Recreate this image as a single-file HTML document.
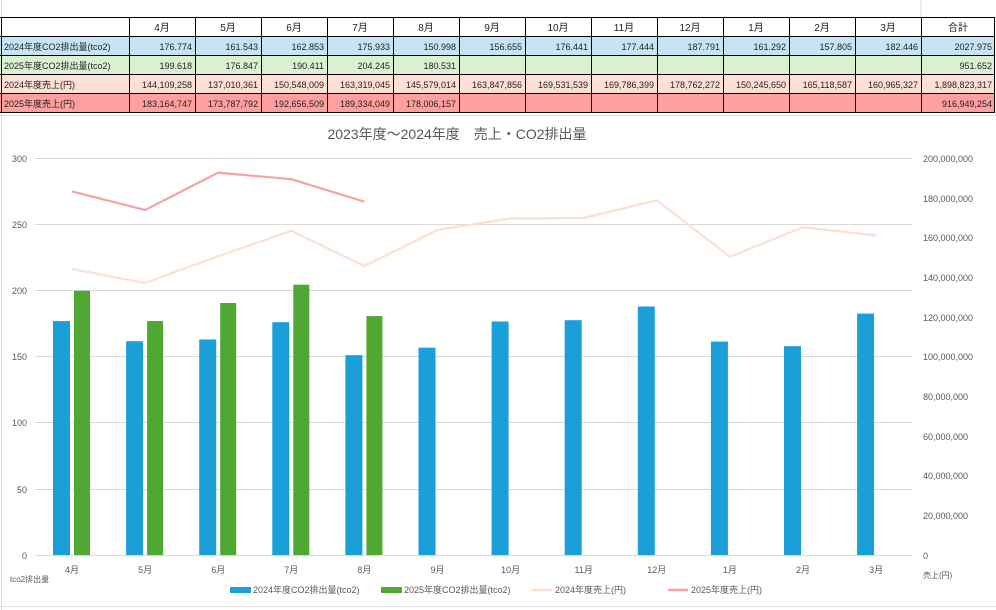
<!DOCTYPE html>
<html><head><meta charset="utf-8"><style>
html,body{margin:0;padding:0;background:#fff;}
svg{display:block;font-family:"Liberation Sans","Noto Sans CJK JP",sans-serif;}
</style></head><body>
<svg width="996" height="610" viewBox="0 0 996 610" xmlns="http://www.w3.org/2000/svg">
<rect width="996" height="610" fill="#fff"/>
<line x1="1.5" y1="0" x2="1.5" y2="610" stroke="#d8d8d8"/>
<line x1="921" y1="0" x2="921" y2="17" stroke="#d8d8d8"/>
<!-- table fills -->
<rect x="0" y="36" width="995" height="19" fill="#c5e5f4"/>
<rect x="0" y="55" width="995" height="19" fill="#dbf0d0"/>
<rect x="0" y="74" width="995" height="19" fill="#fce0d3"/>
<rect x="0" y="93" width="995" height="19" fill="#ff9f9f"/>
<g stroke="#000" stroke-width="1">
<line x1="0" y1="17.5" x2="995" y2="17.5"/><line x1="0" y1="36.5" x2="995" y2="36.5"/>
<line x1="0" y1="55.5" x2="995" y2="55.5"/><line x1="0" y1="74.5" x2="995" y2="74.5"/>
<line x1="0" y1="93.5" x2="995" y2="93.5"/><line x1="0" y1="112.5" x2="995" y2="112.5"/>
<line x1="1.5" y1="17" x2="1.5" y2="113"/><line x1="129.5" y1="17" x2="129.5" y2="113"/>
<line x1="195.5" y1="17" x2="195.5" y2="113"/><line x1="261.5" y1="17" x2="261.5" y2="113"/>
<line x1="327.5" y1="17" x2="327.5" y2="113"/><line x1="393.5" y1="17" x2="393.5" y2="113"/>
<line x1="459.5" y1="17" x2="459.5" y2="113"/><line x1="525.5" y1="17" x2="525.5" y2="113"/>
<line x1="591.5" y1="17" x2="591.5" y2="113"/><line x1="657.5" y1="17" x2="657.5" y2="113"/>
<line x1="723.5" y1="17" x2="723.5" y2="113"/><line x1="789.5" y1="17" x2="789.5" y2="113"/>
<line x1="855.5" y1="17" x2="855.5" y2="113"/><line x1="921.5" y1="17" x2="921.5" y2="113"/>
<line x1="994.5" y1="17" x2="994.5" y2="113"/>
</g>
<g font-size="10" fill="#222" text-anchor="middle">
<text x="162" y="31">4月</text><text x="228" y="31">5月</text><text x="294" y="31">6月</text><text x="360" y="31">7月</text>
<text x="426" y="31">8月</text><text x="492" y="31">9月</text><text x="558" y="31">10月</text><text x="624" y="31">11月</text>
<text x="690" y="31">12月</text><text x="756" y="31">1月</text><text x="822" y="31">2月</text><text x="888" y="31">3月</text>
<text x="958" y="31">合計</text>
</g>
<g font-size="9" fill="#222">
<text x="4" y="50">2024年度CO2排出量(tco2)</text>
<text x="4" y="69">2025年度CO2排出量(tco2)</text>
<text x="4" y="88">2024年度売上(円)</text>
<text x="4" y="107">2025年度売上(円)</text>
</g>
<g font-size="9" fill="#222" text-anchor="end">
<text x="192" y="50">176.774</text><text x="258" y="50">161.543</text><text x="324" y="50">162.853</text><text x="390" y="50">175.933</text><text x="456" y="50">150.998</text><text x="522" y="50">156.655</text><text x="588" y="50">176.441</text><text x="654" y="50">177.444</text><text x="720" y="50">187.791</text><text x="786" y="50">161.292</text><text x="852" y="50">157.805</text><text x="918" y="50">182.446</text><text x="992" y="50">2027.975</text>
<text x="192" y="69">199.618</text><text x="258" y="69">176.847</text><text x="324" y="69">190.411</text><text x="390" y="69">204.245</text><text x="456" y="69">180.531</text><text x="992" y="69">951.652</text>
<text x="192" y="88">144,109,258</text><text x="258" y="88">137,010,361</text><text x="324" y="88">150,548,009</text><text x="390" y="88">163,319,045</text><text x="456" y="88">145,579,014</text><text x="522" y="88">163,847,856</text><text x="588" y="88">169,531,539</text><text x="654" y="88">169,786,399</text><text x="720" y="88">178,762,272</text><text x="786" y="88">150,245,650</text><text x="852" y="88">165,118,587</text><text x="918" y="88">160,965,327</text><text x="992" y="88">1,898,823,317</text>
<text x="192" y="107">183,164,747</text><text x="258" y="107">173,787,792</text><text x="324" y="107">192,656,509</text><text x="390" y="107">189,334,049</text><text x="456" y="107">178,006,157</text><text x="992" y="107">916,949,254</text>
</g>
<line x1="0" y1="115.5" x2="996" y2="115.5" stroke="#e0e0e0"/>
<!-- chart -->
<text x="457" y="139" font-size="14" fill="#595959" text-anchor="middle">2023年度～2024年度　売上・CO2排出量</text>
<g stroke="#d9d9d9" stroke-width="1">
<line x1="35" y1="158.5" x2="912" y2="158.5"/><line x1="35" y1="224.5" x2="912" y2="224.5"/>
<line x1="35" y1="290.5" x2="912" y2="290.5"/><line x1="35" y1="356.5" x2="912" y2="356.5"/>
<line x1="35" y1="422.5" x2="912" y2="422.5"/><line x1="35" y1="489.5" x2="912" y2="489.5"/>
<line x1="35" y1="555.5" x2="912" y2="555.5"/>
</g>
<g font-size="9" fill="#595959" text-anchor="end">
<text x="27" y="162">300</text><text x="27" y="228">250</text><text x="27" y="294">200</text><text x="27" y="360">150</text><text x="27" y="426">100</text><text x="27" y="493">50</text><text x="27" y="559">0</text>
</g>
<g font-size="9" fill="#595959" text-anchor="start">
<text x="923" y="162">200,000,000</text><text x="923" y="202">180,000,000</text><text x="923" y="241">160,000,000</text><text x="923" y="281">140,000,000</text><text x="923" y="321">120,000,000</text><text x="923" y="360">100,000,000</text><text x="923" y="400">80,000,000</text><text x="923" y="440">60,000,000</text><text x="923" y="479">40,000,000</text><text x="923" y="519">20,000,000</text><text x="923" y="559">0</text>
</g>
<g fill="#1a9fd8">
<rect x="53" y="321.1" width="17" height="233.9"/><rect x="126.1" y="341.2" width="17" height="213.8"/><rect x="199.2" y="339.5" width="17" height="215.5"/><rect x="272.3" y="322.2" width="17" height="232.8"/><rect x="345.4" y="355.2" width="17" height="199.8"/><rect x="418.5" y="347.7" width="17" height="207.3"/><rect x="491.6" y="321.5" width="17" height="233.5"/><rect x="564.7" y="320.2" width="17" height="234.8"/><rect x="637.8" y="306.5" width="17" height="248.5"/><rect x="710.9" y="341.6" width="17" height="213.4"/><rect x="784" y="346.2" width="17" height="208.8"/><rect x="857.1" y="313.6" width="17" height="241.4"/>
</g>
<g fill="#4ea832">
<rect x="74" y="290.8" width="16" height="264.2"/><rect x="147.1" y="321" width="16" height="234"/><rect x="220.2" y="303" width="16" height="252"/><rect x="293.3" y="284.7" width="16" height="270.3"/><rect x="366.4" y="316.1" width="16" height="238.9"/>
</g>
<polyline fill="none" stroke="#fbe0d4" stroke-width="2.2" points="72,268.9 145.1,283 218.2,256.2 291.3,230.8 364.4,266 437.5,229.8 510.6,218.5 583.7,218 656.8,200.2 729.9,256.8 803,227.2 876.1,235.5"/>
<polyline fill="none" stroke="#f4a3a3" stroke-width="2.2" points="72,191.4 145.1,210 218.2,172.6 291.3,179.2 364.4,201.7"/>
<g font-size="9" fill="#595959" text-anchor="middle">
<text x="72" y="573">4月</text><text x="145.1" y="573">5月</text><text x="218.2" y="573">6月</text><text x="291.3" y="573">7月</text><text x="364.4" y="573">8月</text><text x="437.5" y="573">9月</text><text x="510.6" y="573">10月</text><text x="583.7" y="573">11月</text><text x="656.8" y="573">12月</text><text x="729.9" y="573">1月</text><text x="803" y="573">2月</text><text x="876.1" y="573">3月</text>
</g>
<text x="10" y="582" font-size="8" fill="#595959">tco2排出量</text>
<text x="923" y="578" font-size="8" fill="#595959">売上(円)</text>
<g font-size="9" fill="#595959">
<rect x="230" y="587" width="21" height="6" fill="#1a9fd8"/><text x="253" y="593">2024年度CO2排出量(tco2)</text>
<rect x="381" y="587" width="21" height="6" fill="#4ea832"/><text x="404" y="593">2025年度CO2排出量(tco2)</text>
<line x1="532" y1="590" x2="552" y2="590" stroke="#fbe0d4" stroke-width="2.5"/><text x="555" y="593">2024年度売上(円)</text>
<line x1="668" y1="590" x2="688" y2="590" stroke="#f4a3a3" stroke-width="2.5"/><text x="691" y="593">2025年度売上(円)</text>
</g>
<line x1="0" y1="606.5" x2="996" y2="606.5" stroke="#e0e0e0"/>
</svg>
</body></html>
